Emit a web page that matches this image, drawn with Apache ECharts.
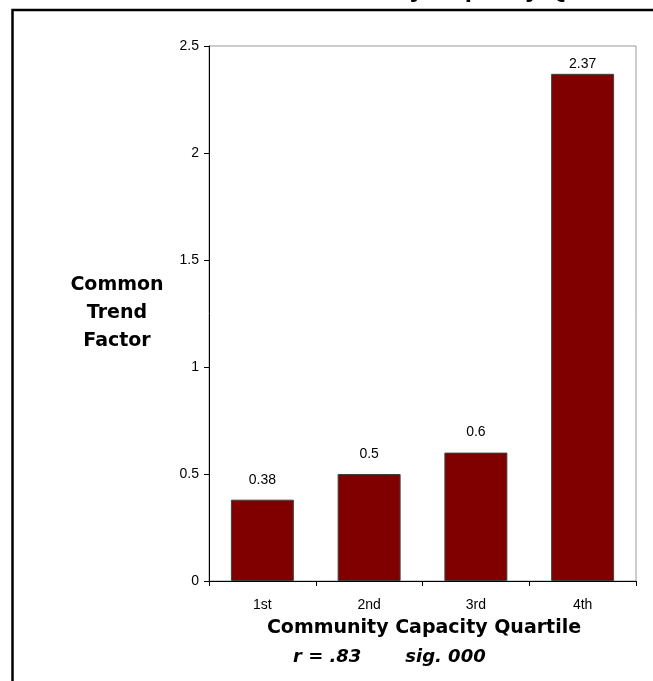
<!DOCTYPE html>
<html><head><meta charset="utf-8">
<script src="https://cdn.jsdelivr.net/npm/echarts@6/dist/echarts.min.js"></script>
<style>html,body{margin:0;padding:0;background:#fff}#c{width:653px;height:681px}</style>
</head><body><div id="c"></div>
<script>
var categories = ['1st', '2nd', '3rd', '4th'];
var values = [0.38, 0.5, 0.6, 2.37];
var yTicks = { min: 0, max: 2.5, interval: 0.5 };
var titleText = 'Common Trend Factor and Community Capacity Quartile';
var yName = 'Common\nTrend\nFactor';
var xName = 'Community Capacity Quartile';
var statsText = 'r = .83       sig. 000';

// position the clipped title so the "y" of "Community" sits where the reference shows it
var cv = document.createElement('canvas').getContext('2d');
cv.font = 'bold 26px "Liberation Sans"';
var idx = titleText.indexOf('Community') + 8;
var pre = cv.measureText(titleText.slice(0, idx)).width;
var yw = cv.measureText('y').width;
var titleX = 417 - pre - yw / 2;

var chart = echarts.init(document.getElementById('c'), null, { renderer: 'canvas' });
chart.setOption({
  animation: false,
  backgroundColor: '#fff',
  grid: { left: 209, top: 46, right: 17, bottom: 100, show: true, borderColor: '#999', borderWidth: 1, backgroundColor: 'transparent' },
  xAxis: {
    type: 'category', data: categories, boundaryGap: true,
    axisLine: { lineStyle: { color: '#000', width: 1 } },
    axisTick: { show: true, alignWithLabel: false, length: 5, inside: false, lineStyle: { color: '#000' } },
    axisLabel: { color: '#000', fontFamily: 'Liberation Sans', fontSize: 14, margin: 17 }
  },
  yAxis: {
    type: 'value', min: yTicks.min, max: yTicks.max, interval: yTicks.interval,
    axisLine: { show: true, lineStyle: { color: '#000', width: 1 } },
    axisTick: { show: true, length: 5, lineStyle: { color: '#000' } },
    splitLine: { show: false },
    axisLabel: { color: '#000', fontFamily: 'Liberation Sans', fontSize: 14, margin: 10 }
  },
  series: [{
    type: 'bar', barWidth: '59%',
    data: values.map(function (v, i) {
      return i === values.length - 1 ? { value: v, label: { distance: 3 } } : v;
    }),
    itemStyle: { color: '#800000', borderColor: '#404040', borderWidth: 1 },
    label: { show: true, position: 'top', distance: 13, color: '#000', fontFamily: 'Liberation Sans', fontSize: 14 }
  }],
  graphic: [
    { type: 'rect', shape: { x: 12.5, y: 10, width: 800, height: 800 }, style: { fill: 'none', stroke: '#000', lineWidth: 2.5 }, z: 100 },
    { type: 'text', x: titleX, y: -10, style: { text: titleText, font: 'bold 26px "Liberation Sans"', fill: '#000', textAlign: 'left', textVerticalAlign: 'middle' }, z: 100 },
    { type: 'text', x: 117, y: 313, style: { text: yName, font: 'bold 19px "DejaVu Sans"', lineHeight: 28, fill: '#000', textAlign: 'center', textVerticalAlign: 'middle' } },
    { type: 'text', x: 424, y: 628, style: { text: xName, font: 'bold 19px "DejaVu Sans"', fill: '#000', textAlign: 'center', textVerticalAlign: 'middle' } },
    { type: 'text', x: 293, y: 657, style: { text: statsText, font: 'italic bold 18px "DejaVu Sans"', fill: '#000', textAlign: 'left', textVerticalAlign: 'middle' } }
  ]
});
</script></body></html>
